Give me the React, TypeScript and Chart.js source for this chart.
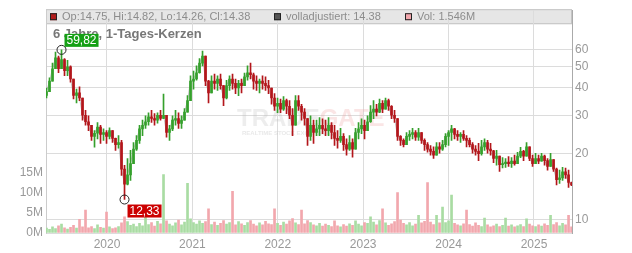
import React, { useEffect, useRef } from 'react';
import { Chart, registerables } from 'chart.js';

Chart.register(...registerables);

// ---- data ----
const firstCandleYear = 2019.292;
const candleStepYears = 0.03513;
const axisMinYear = 2019.286;
const axisMaxYear = 2025.445;
const yearTicks = [2020, 2021, 2022, 2023, 2024, 2025];
const priceTicks = [10, 20, 30, 40, 50, 60];
const volumeTicks = [0, 5, 10, 15];
const priceMin = 8.66;
const priceMax = 90.9;
const volumeMax = 55.2;
const firstOpen = 37;

const closes = [
  38.5, 43, 49, 55, 49, 54, 48, 50, 44, 37,
  38, 36, 30, 28, 27, 24, 24.8, 26.5, 24.5, 25,
  24, 25.5, 23.5, 22, 22.5, 17, 14.5, 16, 18, 21,
  23, 26, 27, 28, 29.5, 29, 28.5, 30, 29, 30,
  25, 26, 28.5, 29, 27.5, 28.5, 31, 35, 43, 44,
  47, 52, 56, 43, 38, 43, 42, 44, 41, 36,
  41, 44, 42, 40, 42, 41, 45, 47, 46, 43,
  42, 43, 42, 41, 40, 36, 33, 34, 32, 35,
  33, 30, 27, 35, 33, 31, 29, 24, 27, 25,
  26, 27, 26, 25.5, 27, 25, 23.5, 23, 24, 22,
  21, 22.5, 21, 25, 26, 27, 25.5, 28, 31, 32,
  31, 34, 32, 35, 33, 30, 29, 24, 23, 22,
  24, 24.5, 25, 23.8, 25, 23, 22, 21, 20.5, 19.7,
  21.5, 21, 22, 24, 25, 26, 24.5, 24, 24.5, 23.5,
  23, 22, 21, 20.5, 20, 21.5, 22.5, 21, 20.6, 19,
  19.5, 17.8, 18, 18.3, 18, 18.5, 18, 19.5, 20.5, 19.5,
  21.5, 19, 18, 19, 18.5, 19.5, 18.6, 17.5, 18.8, 17,
  15.2, 15.5, 16.5, 16, 14.75, 14.38,
];

const highs = [
  40, 44.5, 52, 58.5, 56, 59.82, 54.5, 53.5, 50.5, 43.4,
  39.5, 40.5, 33.2, 31.6, 29.8, 27, 25.5, 27.8, 27, 26,
  25.5, 26.3, 25.5, 23.6, 24.2, 23, 17.7, 19, 20.7, 22.5,
  24.2, 27, 28.5, 29.8, 30.8, 31.6, 30.5, 30.8, 31.6, 37.5,
  28.5, 27, 29.8, 31.6, 30.8, 29.8, 32.2, 36.9, 45.5, 47.8,
  50.5, 54.5, 59, 53.5, 43.4, 45.5, 46.3, 45.5, 46.3, 41,
  43.4, 45.5, 46.3, 44, 43.4, 44, 46.8, 50.5, 52, 46.8,
  45.5, 44, 45.5, 45, 43.4, 39.5, 37.7, 36, 35.6, 36.5,
  35.6, 35, 32.2, 36.9, 36.9, 33.7, 32.2, 27, 29.8, 28.5,
  28.5, 29.3, 28.9, 28.5, 29.3, 27.8, 27, 25.5, 26.1, 24.7,
  23.4, 24.2, 23.4, 26.1, 27.8, 28.9, 28.5, 29.8, 33.2, 35,
  33.7, 35.6, 35, 36, 35.6, 33.2, 31.6, 28.9, 24.2, 23.4,
  25, 25.5, 26.1, 25.5, 26.1, 25, 23.4, 22.5, 21.8, 21.5,
  22.5, 22.5, 23, 24.7, 25.5, 27, 26.1, 25.5, 25, 25.5,
  24.2, 23.6, 22.5, 21.8, 22.3, 23, 23.4, 23, 22.3, 20.7,
  20.7, 19, 19.2, 19, 19.4, 19.2, 19.7, 20.3, 21.4, 20.7,
  22.5, 21.2, 19.7, 20.1, 19.7, 20.1, 19.7, 19, 20.1, 18.6,
  17.2, 16.8, 17.3, 17.2, 16.8, 14.82,
];

const lows = [
  36, 39, 44, 50, 47, 50.5, 45.5, 45.5, 42.5, 35.6,
  34.2, 35, 28.5, 27, 25.5, 23, 21.4, 23.4, 22.3, 23,
  22.3, 23.4, 22.5, 20.7, 21.2, 15.9, 12.33, 14.4, 15.1, 18.6,
  20.7, 22.3, 24.2, 26.1, 27, 27.8, 27, 27.6, 28.5, 28.9,
  23.8, 23, 25.5, 27, 26.1, 26.1, 28.5, 31.6, 36.9, 39.5,
  43.4, 46.8, 50.5, 41, 34.2, 39, 39.5, 39, 39.5, 33.2,
  35.6, 39, 39.5, 37.7, 36.9, 38, 41, 43.4, 44, 39.5,
  39, 38, 39.5, 39, 37.7, 33.7, 31.6, 30.8, 30.8, 31.6,
  30.5, 28.9, 24.2, 28.5, 31.6, 28.5, 27, 21.8, 23, 22.3,
  24.2, 24.2, 24.7, 24.2, 24.2, 23.4, 21.8, 21.2, 22.5, 20.7,
  19.7, 20.7, 19.3, 21.2, 23.4, 24.7, 23.4, 25.5, 27.8, 28.9,
  29.8, 30.8, 30.8, 32.2, 31.6, 28.9, 27.8, 23, 21.8, 21.5,
  22.5, 23, 23.4, 23, 23, 22.3, 20.7, 20.3, 19.7, 19,
  19.7, 20.1, 20.7, 21.5, 21.8, 23, 23.4, 23, 22.5, 23,
  21.5, 21.5, 20.1, 19.7, 18.6, 19.7, 20.7, 20.1, 19.7, 18.2,
  17.7, 16.6, 17.2, 17.3, 17.5, 17.3, 17.7, 18.2, 19.2, 18.6,
  19.7, 18.6, 17.5, 18, 18, 18.6, 17.7, 16.8, 18.2, 16.6,
  14.4, 14.6, 15.1, 15.4, 14, 14.26,
];

// volume in millions
const volumes = [
  1.2, 0.9, 1.5, 1.1, 1.8, 2.2, 1.3, 1.0, 1.4, 1.9,
  1.2, 3.4, 1.5, 5.7, 1.3, 1.6, 1.1, 2.0, 1.4, 1.2,
  5.2, 1.5, 1.1, 1.3, 1.6, 2.5, 4.0, 2.8, 1.9, 2.2,
  1.6, 2.4, 1.8, 5.7, 2.1, 2.6, 1.7, 2.9, 2.3, 14.5,
  3.0, 2.2, 1.8, 2.5, 3.2, 2.0, 2.7, 12.3, 3.5, 2.6,
  2.2, 3.0, 2.4, 2.8, 6.0, 2.1, 2.7, 1.9, 2.4, 3.1,
  2.2, 2.6, 10.3, 2.0, 2.8, 2.3, 1.9, 2.6, 3.1, 2.2,
  1.8, 2.5, 2.0, 2.9, 2.3, 2.1, 6.0, 2.4, 1.9, 2.7,
  2.2, 3.0, 3.6, 2.5, 2.1, 5.7, 2.3, 3.1, 2.6, 2.0,
  1.8, 2.4, 1.7, 2.2, 1.9, 1.6, 3.0, 1.8, 1.5, 2.1,
  1.7, 2.3, 1.9, 3.0, 2.2, 1.8, 2.6, 2.4, 4.0, 2.7,
  2.0, 3.1, 6.0, 2.5, 1.9, 2.3, 2.8, 10.0, 3.2, 2.4,
  2.0, 2.6, 1.8, 2.2, 4.4, 2.5, 2.9, 12.5, 2.7, 2.1,
  4.4, 2.5, 6.4, 2.6, 3.0, 9.4, 2.4, 2.0, 1.8, 2.3,
  5.7, 2.1, 1.7, 2.5, 1.9, 1.6, 3.7, 2.0, 1.5, 1.8,
  2.2, 1.6, 1.9, 3.7, 1.7, 2.0, 1.5, 1.8, 2.1, 1.6,
  3.5, 2.2, 1.8, 1.6, 2.0, 1.7, 2.3, 1.9, 4.4, 2.1,
  2.6, 1.8, 2.4, 2.0, 4.4, 1.546,
];

const titleText = '6 Jahre, 1-Tages-Kerzen';
const legendItems = [
  { text: 'Op:14.75, Hi:14.82, Lo:14.26, Cl:14.38', color: '#b01c1c' },
  { text: 'volladjustiert: 14.38', color: '#555555' },
  { text: 'Vol: 1.546M', color: '#f2a7ad' },
];

const FONT = "'Liberation Sans', Arial, Helvetica, sans-serif";
const UP = '#35a02c';
const DOWN = '#b3161b';
const VOL_UP = '#a9dca3';
const VOL_DOWN = '#f2a7ad';
const GRID = '#dcdcdc';

export default function App() {
  const ref = useRef<HTMLCanvasElement>(null);

  useEffect(() => {
    document.body.style.margin = '0';
    const canvas = ref.current;
    if (!canvas) return;
    const n = Math.min(closes.length, highs.length, lows.length, volumes.length);
    const xs: number[] = [];
    const opens: number[] = [];
    const hi: number[] = [];
    const lo: number[] = [];
    for (let i = 0; i < n; i++) {
      xs.push(firstCandleYear + i * candleStepYears);
      const o = i === 0 ? firstOpen : closes[i - 1];
      opens.push(o);
      hi.push(Math.max(highs[i], o, closes[i]));
      lo.push(Math.min(lows[i], o, closes[i]));
    }
    const isUp = (i: number) => closes[i] >= opens[i];
    const candleColors = xs.map((_, i) => (isUp(i) ? UP : DOWN));
    const volColors = xs.map((_, i) => (isUp(i) ? VOL_UP : VOL_DOWN));

    let maxI = 0;
    let minI = 0;
    for (let i = 0; i < n; i++) {
      if (hi[i] > hi[maxI]) maxI = i;
      if (lo[i] < lo[minI]) minI = i;
    }

    const overlay = {
      id: 'overlay',
      beforeDraw(chart: any) {
        const { ctx, chartArea } = chart;
        ctx.save();
        ctx.fillStyle = '#e6e6e6';
        ctx.fillRect(chartArea.left, chartArea.top - 1, chartArea.right - chartArea.left, 15);
        ctx.strokeStyle = '#c4c4c4';
        ctx.lineWidth = 1;
        ctx.strokeRect(chartArea.left + 0.5, chartArea.top - 0.5, chartArea.right - chartArea.left - 1, 14);
        ctx.restore();
      },
      beforeDatasetsDraw(chart: any) {
        const { ctx } = chart;
        ctx.save();
        // watermark
        ctx.font = `bold 24px ${FONT}`;
        ctx.textBaseline = 'middle';
        ctx.fillStyle = 'rgba(190,190,190,0.28)';
        ctx.fillText('TRADE', 237, 119);
        const w = ctx.measureText('TRADE').width;
        ctx.fillStyle = 'rgba(235,150,150,0.25)';
        ctx.fillText('GATE', 237 + w, 119);
        ctx.font = `bold 6px ${FONT}`;
        ctx.fillStyle = 'rgba(190,190,190,0.35)';
        ctx.fillText('REALTIME STOCK EXCHANGE', 242, 133);
        // title
        ctx.font = `bold 13px ${FONT}`;
        ctx.fillStyle = '#777777';
        ctx.textBaseline = 'middle';
        ctx.fillText(titleText, 53, 34);
        ctx.restore();
      },
      afterDatasetsDraw(chart: any) {
        const { ctx, scales } = chart;
        const xS = scales.x;
        const yS = scales.y;
        const fmt = (v: number) => v.toFixed(2).replace('.', ',');
        const drawMark = (i: number, val: number, bg: string, above: boolean) => {
          const cx = xS.getPixelForValue(xs[i]);
          const cy = yS.getPixelForValue(val);
          ctx.save();
          ctx.beginPath();
          ctx.arc(cx, cy, 4.5, 0, Math.PI * 2);
          ctx.strokeStyle = '#222';
          ctx.lineWidth = 1;
          ctx.stroke();
          ctx.font = `12px ${FONT}`;
          const label = fmt(val);
          const tw = ctx.measureText(label).width;
          const bx = cx + 3;
          const by = above ? cy - 16 : cy + 5;
          ctx.fillStyle = bg;
          ctx.fillRect(bx, by, tw + 4, 13);
          ctx.fillStyle = '#ffffff';
          ctx.textBaseline = 'middle';
          ctx.fillText(label, bx + 2, by + 7);
          ctx.restore();
        };
        drawMark(maxI, hi[maxI], '#15a015', true);
        drawMark(minI, lo[minI], '#cc0000', false);
      },
      afterDraw(chart: any) {
        const { ctx, chartArea } = chart;
        ctx.save();
        ctx.font = `11px ${FONT}`;
        ctx.textBaseline = 'middle';
        const yMid = chartArea.top + 6.5;
        const xsLegend = [50, 274, 405];
        legendItems.forEach((it, k) => {
          const x = xsLegend[k];
          ctx.fillStyle = it.color;
          ctx.fillRect(x, yMid - 3.5, 7, 7);
          ctx.strokeStyle = '#222';
          ctx.lineWidth = 1;
          ctx.strokeRect(x + 0.5, yMid - 3.5 + 0.5, 6, 6);
          ctx.fillStyle = '#8c8c8c';
          ctx.fillText(it.text, x + 12, yMid + 0.5);
        });
        ctx.restore();
      },
    };

    const chart = new Chart(canvas, {
      type: 'bar',
      data: {
        datasets: [
          {
            type: 'bar',
            label: 'body',
            data: xs.map((x, i) => ({ x, y: [Math.min(opens[i], closes[i]), Math.max(opens[i], closes[i])] })) as any,
            backgroundColor: candleColors,
            borderWidth: 0,
            barThickness: 2,
            minBarLength: 1,
            grouped: false,
            yAxisID: 'y',
            order: 1,
          },
          {
            type: 'bar',
            label: 'wick',
            data: xs.map((x, i) => ({ x, y: [lo[i], hi[i]] })) as any,
            backgroundColor: candleColors,
            borderWidth: 0,
            barThickness: 1,
            grouped: false,
            yAxisID: 'y',
            order: 2,
          },
          {
            type: 'line',
            label: 'adjusted',
            data: xs.map((x, i) => ({ x, y: closes[i] })),
            borderColor: 'rgba(150,150,150,0.55)',
            borderWidth: 1,
            pointRadius: 0,
            yAxisID: 'y',
            order: 3,
          },
          {
            type: 'bar',
            label: 'volume',
            data: xs.map((x, i) => ({ x, y: volumes[i] })),
            backgroundColor: volColors,
            borderWidth: 0,
            barThickness: 2,
            grouped: false,
            yAxisID: 'yVol',
            order: 4,
          },
        ] as any,
      },
      options: {
        responsive: false,
        devicePixelRatio: 1,
        animation: false,
        layout: { padding: { top: 9, left: 0, right: 0, bottom: 0 } },
        plugins: { legend: { display: false }, tooltip: { enabled: false }, title: { display: false } },
        scales: {
          x: {
            type: 'linear',
            min: axisMinYear,
            max: axisMaxYear,
            offset: false,
            afterBuildTicks: (s: any) => { s.ticks = yearTicks.map((v) => ({ value: v })); },
            afterFit: (s: any) => { s.height = 20; },
            ticks: { color: '#999', font: { family: FONT, size: 12 }, padding: 4, callback: (v: any) => String(v), maxRotation: 0 },
            grid: { color: GRID, drawTicks: false, offset: false },
            border: { display: true, color: GRID },
          },
          yVol: {
            type: 'linear',
            position: 'left',
            min: 0,
            max: volumeMax,
            afterBuildTicks: (s: any) => { s.ticks = volumeTicks.map((v) => ({ value: v })); },
            afterFit: (s: any) => { s.width = 46; },
            ticks: { color: '#999', font: { family: FONT, size: 12 }, padding: 3, callback: (v: any) => `${v}M` },
            grid: { drawOnChartArea: false, drawTicks: false },
            border: { display: true, color: '#cccccc' },
          },
          y: {
            type: 'logarithmic',
            position: 'right',
            min: priceMin,
            max: priceMax,
            afterBuildTicks: (s: any) => { s.ticks = priceTicks.map((v) => ({ value: v })); },
            afterFit: (s: any) => { s.width = 60; },
            ticks: { color: '#999', font: { family: FONT, size: 12 }, padding: 3, callback: (v: any) => String(v) },
            grid: { color: GRID, drawTicks: false },
            border: { display: true, color: '#aaaaaa' },
          },
        } as any,
      },
      plugins: [overlay],
    });

    return () => chart.destroy();
  }, []);

  return <canvas ref={ref} width={632} height={253} style={{ display: 'block' }} />;
}
